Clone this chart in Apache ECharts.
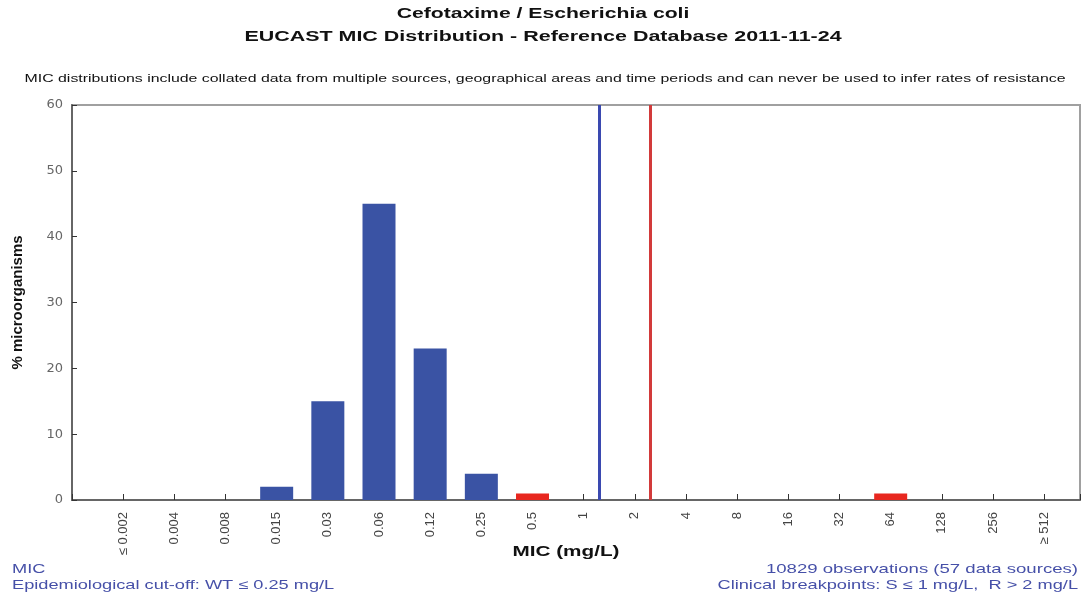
<!DOCTYPE html>
<html>
<head>
<meta charset="utf-8">
<script src="https://cdn.jsdelivr.net/npm/echarts@6/dist/echarts.min.js"></script>
<style>html,body{margin:0;padding:0;background:#fff}#c{width:1083px;height:599px}</style>
</head>
<body>
<div id="c"></div>
<script>
const categories = ['≤ 0.002','0.004','0.008','0.015','0.03','0.06','0.12','0.25','0.5','1','2','4','8','16','32','64','128','256','≥ 512'];
const wildType = [0,0,0,2,15,45,23,4,0,0,0,0,0,0,0,0,0,0,0];
const nonWild  = [0,0,0,0,0,0,0,0,1,0,0,0,0,0,0,1,0,0,0];
const yTicks = [0,10,20,30,40,50,60];
const cutS = 9.3;   // between 1 and 2 (S ≤ 1)
const cutR = 10.3;  // between 2 and 4 (R > 2)

const chart = echarts.init(document.getElementById('c'), null, {renderer:'canvas'});
const blueData = categories.map((c,i)=>[i, wildType[i]]).filter(d=>d[1]>0);
const redData = categories.map((c,i)=>[i, nonWild[i]]).filter(d=>d[1]>0);
const font = 'Liberation Sans, Arial, sans-serif';
const sx = 1.4;
function txt(x, y, s, size, bold, color, align, scale){
  return {type:'text', x:x, y:y, scaleX:scale||sx, silent:true,
    style:{text:s, font:(bold?'bold ':'')+size+'px '+font, fill:color, textAlign:align, textVerticalAlign:'middle'}};
}
chart.setOption({
  animation:false,
  backgroundColor:'#fff',
  grid:{left:72,right:3,top:105,bottom:99,show:true,borderColor:'#a0a0a0',borderWidth:2,backgroundColor:'transparent'},
  xAxis:{
    type:'value', min:-1, max:18.7, interval:1,
    axisLine:{show:true,onZero:false,lineStyle:{color:'#666',width:2}},
    axisTick:{show:true,inside:true,length:6,lineStyle:{color:'#333',width:1}},
    splitLine:{show:false},
    axisLabel:{rotate:90, margin:12, fontFamily:font, fontSize:13, color:'#444', showMinLabel:true, showMaxLabel:true,
      formatter:function(v){ const i=Math.round(v); return (Math.abs(v-i)<1e-6 && i>=0 && i<categories.length)?categories[i]:''; }}
  },
  yAxis:{
    type:'value', min:0, max:60, interval:10,
    name:'% microorganisms', nameLocation:'middle', nameGap:47,
    nameTextStyle:{fontFamily:font,fontSize:15,fontWeight:'bold',color:'#111'},
    axisLine:{show:true,onZero:false,lineStyle:{color:'#666',width:2}},
    axisTick:{show:true,inside:true,length:5,lineStyle:{color:'#333'}},
    splitLine:{show:false},
    axisLabel:{margin:9,fontFamily:'DejaVu Sans, sans-serif',fontSize:13,color:'#666',
      formatter:function(v){ return yTicks.indexOf(v)>=0 ? String(v) : ''; }}
  },
  series:[
    {type:'bar', data:blueData, barWidth:33, itemStyle:{color:'#3a53a4'},
     markLine:{silent:true, symbol:'none', label:{show:false},
       data:[{xAxis:cutS, lineStyle:{color:'#3a49b0',width:3,type:'solid'}},
             {xAxis:cutR, lineStyle:{color:'#d23a3a',width:3,type:'solid'}}]}},
    {type:'bar', data:redData, barWidth:33, barGap:'-100%', itemStyle:{color:'#e8271f'}}
  ],
  graphic:[
    txt(543, 14, 'Cefotaxime / Escherichia coli', 15, true, '#111', 'center', 1.41),
    txt(543, 37, 'EUCAST MIC Distribution - Reference Database 2011-11-24', 15, true, '#111', 'center', 1.43),
    txt(545, 79, 'MIC distributions include collated data from multiple sources, geographical areas and time periods and can never be used to infer rates of resistance', 11.5, false, '#111', 'center', 1.38),
    txt(566, 552, 'MIC (mg/L)', 15, true, '#111', 'center', 1.38),
    txt(12, 569, 'MIC', 13, false, '#4650a8', 'left', 1.4),
    txt(12, 585, 'Epidemiological cut-off: WT ≤ 0.25 mg/L', 13, false, '#4650a8', 'left', 1.4),
    txt(1078, 569, '10829 observations (57 data sources)', 13, false, '#4650a8', 'right', 1.43),
    txt(1078, 585, 'Clinical breakpoints: S ≤ 1 mg/L,  R > 2 mg/L', 13, false, '#4650a8', 'right', 1.4)
  ]
});
</script>
</body>
</html>
